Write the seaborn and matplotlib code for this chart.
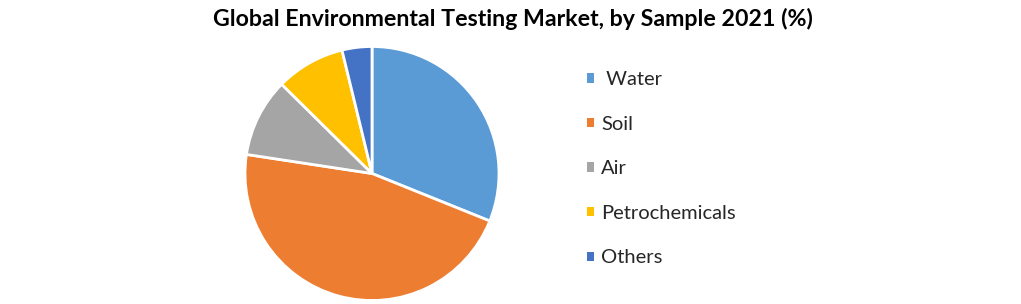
import matplotlib
matplotlib.use("Agg")
import matplotlib.pyplot as plt
import seaborn as sns
from matplotlib.patches import Patch

categories = [" Water", "Soil", "Air", "Petrochemicals", "Others"]
shares = [31.1, 46.3, 10.0, 8.8, 3.8]
colors = ["#5B9BD5", "#ED7D31", "#A5A5A5", "#FFC000", "#4472C4"]
title = "Global Environmental Testing Market, by Sample 2021 (%)"

sns.set_theme(style="white")
plt.rcParams["font.family"] = ["Lato", "DejaVu Sans"]

fig = plt.figure(figsize=(10.21, 3.04), dpi=100)
fig.patch.set_facecolor("white")

ax = fig.add_axes([245 / 1021, 3.5 / 304, 254 / 1021, 254 / 304])
ax.pie(shares, colors=colors, startangle=90, counterclock=False,
       wedgeprops=dict(edgecolor="white", linewidth=2))
ax.set_xlim(-1.0, 1.0)
ax.set_ylim(-1.0, 1.0)
ax.set_aspect("equal")
ax.axis("off")

fig.text(513 / 1021, 1 - 19 / 304, title, ha="center", va="center",
         fontsize=16.7, fontweight="bold", color="black")

handles = [Patch(facecolor=c, edgecolor="none") for c in colors]
fig.legend(handles, categories, loc="upper left",
           bbox_to_anchor=(569 / 1021, 1 - 53 / 304), frameon=False,
           fontsize=14.5, handlelength=0.35, handleheight=0.35,
           handletextpad=0.35, labelspacing=1.37)

fig.savefig("out.png", dpi=100, facecolor="white")
